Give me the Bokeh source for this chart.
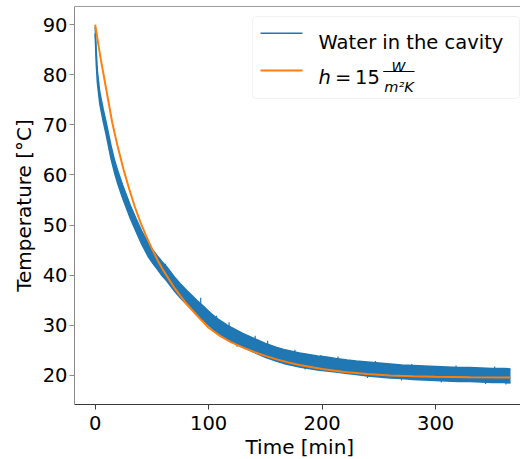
from bokeh.plotting import figure
from bokeh.models import Range1d, FixedTicker, Label, BoxAnnotation, Span, ColumnDataSource, Title
from bokeh.embed import file_html
from bokeh.resources import INLINE

# ---------------- data ----------------
# Measured water temperature: band of the noisy record (lower / upper envelope)
water_t = [0, 1, 2, 4, 7, 10, 14, 17, 20, 24, 27, 31, 36, 41, 47, 51, 55, 59, 63, 67,
           70, 75, 81, 86, 90, 96, 100, 104, 108, 112, 116, 120, 125, 130, 135, 140,
           146, 150, 155, 160, 166, 172, 180, 188, 196, 204, 212, 222, 230, 240, 250,
           260, 270, 280, 290, 300, 310, 320, 330, 340, 350, 360, 366]
water_lo = [88.2, 82.0, 78.3, 74.3, 70.8, 67.7, 63.2, 60.5, 58.2, 55.5, 53.7, 51.3, 48.7,
            46.2, 43.6, 42.3, 41.1, 39.9, 38.9, 37.7, 36.8, 35.5, 34.1, 33.0, 32.1, 30.9,
            30.0, 29.2, 28.5, 27.9, 27.3, 26.8, 26.2, 25.6, 25.1, 24.6, 24.0, 23.6, 23.2,
            22.8, 22.4, 22.1, 21.7, 21.4, 21.1, 20.9, 20.7, 20.4, 20.2, 19.9, 19.7, 19.5,
            19.4, 19.2, 19.1, 19.0, 18.9, 18.8, 18.8, 18.7, 18.6, 18.6, 18.5]
water_hi = [89.5, 84.5, 80.6, 76.6, 73.2, 70.2, 65.8, 63.0, 60.8, 58.1, 56.3, 53.9, 51.3,
            48.8, 46.3, 45.0, 43.8, 42.7, 41.7, 40.5, 39.6, 38.3, 36.9, 35.8, 34.9, 33.7,
            32.8, 32.0, 31.3, 30.7, 30.1, 29.6, 29.0, 28.4, 27.9, 27.4, 26.8, 26.4, 26.0,
            25.6, 25.2, 24.9, 24.5, 24.2, 23.9, 23.7, 23.4, 23.1, 22.9, 22.7, 22.5, 22.3,
            22.1, 22.0, 21.9, 21.8, 21.7, 21.6, 21.6, 21.5, 21.4, 21.4, 21.3]
# isolated noise spikes of the record
spike_t = [62, 93, 107, 118, 125, 141, 152, 176, 185, 199, 214, 240, 247, 270, 279,
           305, 318, 344, 352, 362]
spike_from = [41.0, 34.0, 30.8, 29.4, 26.8, 26.7, 25.8, 24.2, 22.2, 23.3, 22.8, 20.6,
              22.0, 20.0, 21.4, 19.7, 21.2, 19.4, 20.9, 19.3]
spike_to = [42.3, 35.5, 31.9, 30.6, 25.7, 27.9, 26.9, 25.1, 21.2, 24.1, 23.8, 19.5,
            22.9, 19.0, 22.3, 18.6, 22.0, 18.3, 21.8, 18.2]

# Model curve h = 15 W/(m^2 K)
model_t = [0, 5, 10, 15, 20, 25, 30, 35, 40, 45, 50, 55, 60, 70, 80, 90, 100, 110, 120,
           130, 140, 150, 160, 170, 180, 190, 200, 210, 220, 240, 260, 280, 300, 330, 366]
model_T = [90.0, 83.0, 76.8, 70.5, 65.5, 61.1, 57.2, 53.6, 50.5, 47.8, 45.3, 43.0, 41.0,
           37.4, 34.4, 31.9, 29.5, 27.9, 26.6, 25.6, 24.7, 23.9, 23.2, 22.6, 22.1, 21.7,
           21.3, 21.0, 20.7, 20.3, 20.0, 19.85, 19.75, 19.65, 19.6]

x_ticks = [0, 100, 200, 300]
y_ticks = [20, 30, 40, 50, 60, 70, 80, 90]
x_label = "Time [min]"
y_label = "Temperature [°C]"
legend_water = "Water in the cavity"

X_MIN, X_MAX = -18.2, 374.8
Y_MIN, Y_MAX = 14.2, 93.6

BLUE = "#1f77b4"
ORANGE = "#ff7f0e"
FONT = "DejaVu Sans"

p = figure(width=520, height=459, output_backend="svg", toolbar_location=None,
           x_range=Range1d(X_MIN, X_MAX), y_range=Range1d(Y_MIN, Y_MAX),
           min_border_left=74, min_border_right=0, min_border_top=6, min_border_bottom=55)
p.outline_line_color = None
p.grid.visible = False
p.background_fill_color = "white"
p.border_fill_color = "white"

for ax, ticks in ((p.xaxis[0], x_ticks), (p.yaxis[0], y_ticks)):
    ax.ticker = FixedTicker(ticks=ticks)
    ax.axis_label_text_font = FONT
    ax.axis_label_text_font_size = "20px"
    ax.axis_label_text_font_style = "normal"
    ax.axis_label_text_color = "black"
    ax.major_label_text_font = FONT
    ax.major_label_text_font_size = "19.5px"
    ax.major_label_text_color = "black"
    ax.major_tick_in = 0
    ax.major_tick_out = 5
    ax.minor_tick_out = 0
    ax.minor_tick_in = 0
    ax.major_label_standoff = 2
p.yaxis.axis_label = y_label
p.yaxis.axis_label_standoff = 4
p.xaxis.major_label_standoff = 6
p.xaxis.axis_line_color = "#3a3a3a"
p.xaxis.major_tick_line_color = "#3a3a3a"
p.yaxis.axis_line_color = "#8a8a8a"
p.yaxis.major_tick_line_color = "#8a8a8a"

# x-axis title as a panel below the axis
p.add_layout(Title(text=x_label, text_font=FONT, text_font_size="20px",
                   text_font_style="normal", text_color="black",
                   align="left", offset=171, standoff=1), "below")

p.add_layout(Span(location=Y_MAX, dimension="width", line_color="#3a3a3a", line_width=1))

# measured record
src = ColumnDataSource(dict(t=water_t, lo=water_lo, hi=water_hi))
p.varea(x="t", y1="lo", y2="hi", source=src, fill_color=BLUE, fill_alpha=1.0)
p.line(x="t", y="lo", source=src, line_color=BLUE, line_width=1.5)
p.line(x="t", y="hi", source=src, line_color=BLUE, line_width=1.5)
p.segment(x0=spike_t, y0=spike_from, x1=spike_t, y1=spike_to, line_color=BLUE, line_width=1.2)

# model
p.line(x=model_t, y=model_T, line_color=ORANGE, line_width=2)

# ---------------- legend (drawn by hand, screen units from frame bottom-left) ----------------
p.add_layout(BoxAnnotation(left=178, right=445, bottom=306, top=388,
                           left_units="screen", right_units="screen",
                           bottom_units="screen", top_units="screen",
                           fill_color="white", fill_alpha=0.8,
                           line_color="#d0d0d0", line_width=1, border_radius=4))
p.add_layout(BoxAnnotation(left=186, right=228, bottom=370.5, top=372,
                           left_units="screen", right_units="screen",
                           bottom_units="screen", top_units="screen",
                           fill_color=BLUE, fill_alpha=1, line_color=None))
p.add_layout(BoxAnnotation(left=186, right=228, bottom=333, top=335,
                           left_units="screen", right_units="screen",
                           bottom_units="screen", top_units="screen",
                           fill_color=ORANGE, fill_alpha=1, line_color=None))
p.add_layout(BoxAnnotation(left=308.7, right=340, bottom=332.6, top=333.6,
                           left_units="screen", right_units="screen",
                           bottom_units="screen", top_units="screen",
                           fill_color="black", fill_alpha=1, line_color=None))

def lab(text, x, y, size, style="normal", align="left"):
    p.add_layout(Label(x=x, y=y, x_units="screen", y_units="screen", text=text,
                       text_font=FONT, text_font_size=size, text_font_style=style,
                       text_color="black", text_align=align, text_baseline="alphabetic"))

lab(legend_water, 244, 362.3, "19.5px")
lab("h", 244, 327.3, "19.5px", "italic")
lab("=", 260.5, 327.3, "19.5px")
lab("15", 280.5, 327.3, "19.5px")
lab("W", 324, 337.3, "14px", "italic", "center")
lab("m²K", 324.5, 318, "14.5px", "italic", "center")

open("out.html", "w").write(file_html(p, INLINE))
